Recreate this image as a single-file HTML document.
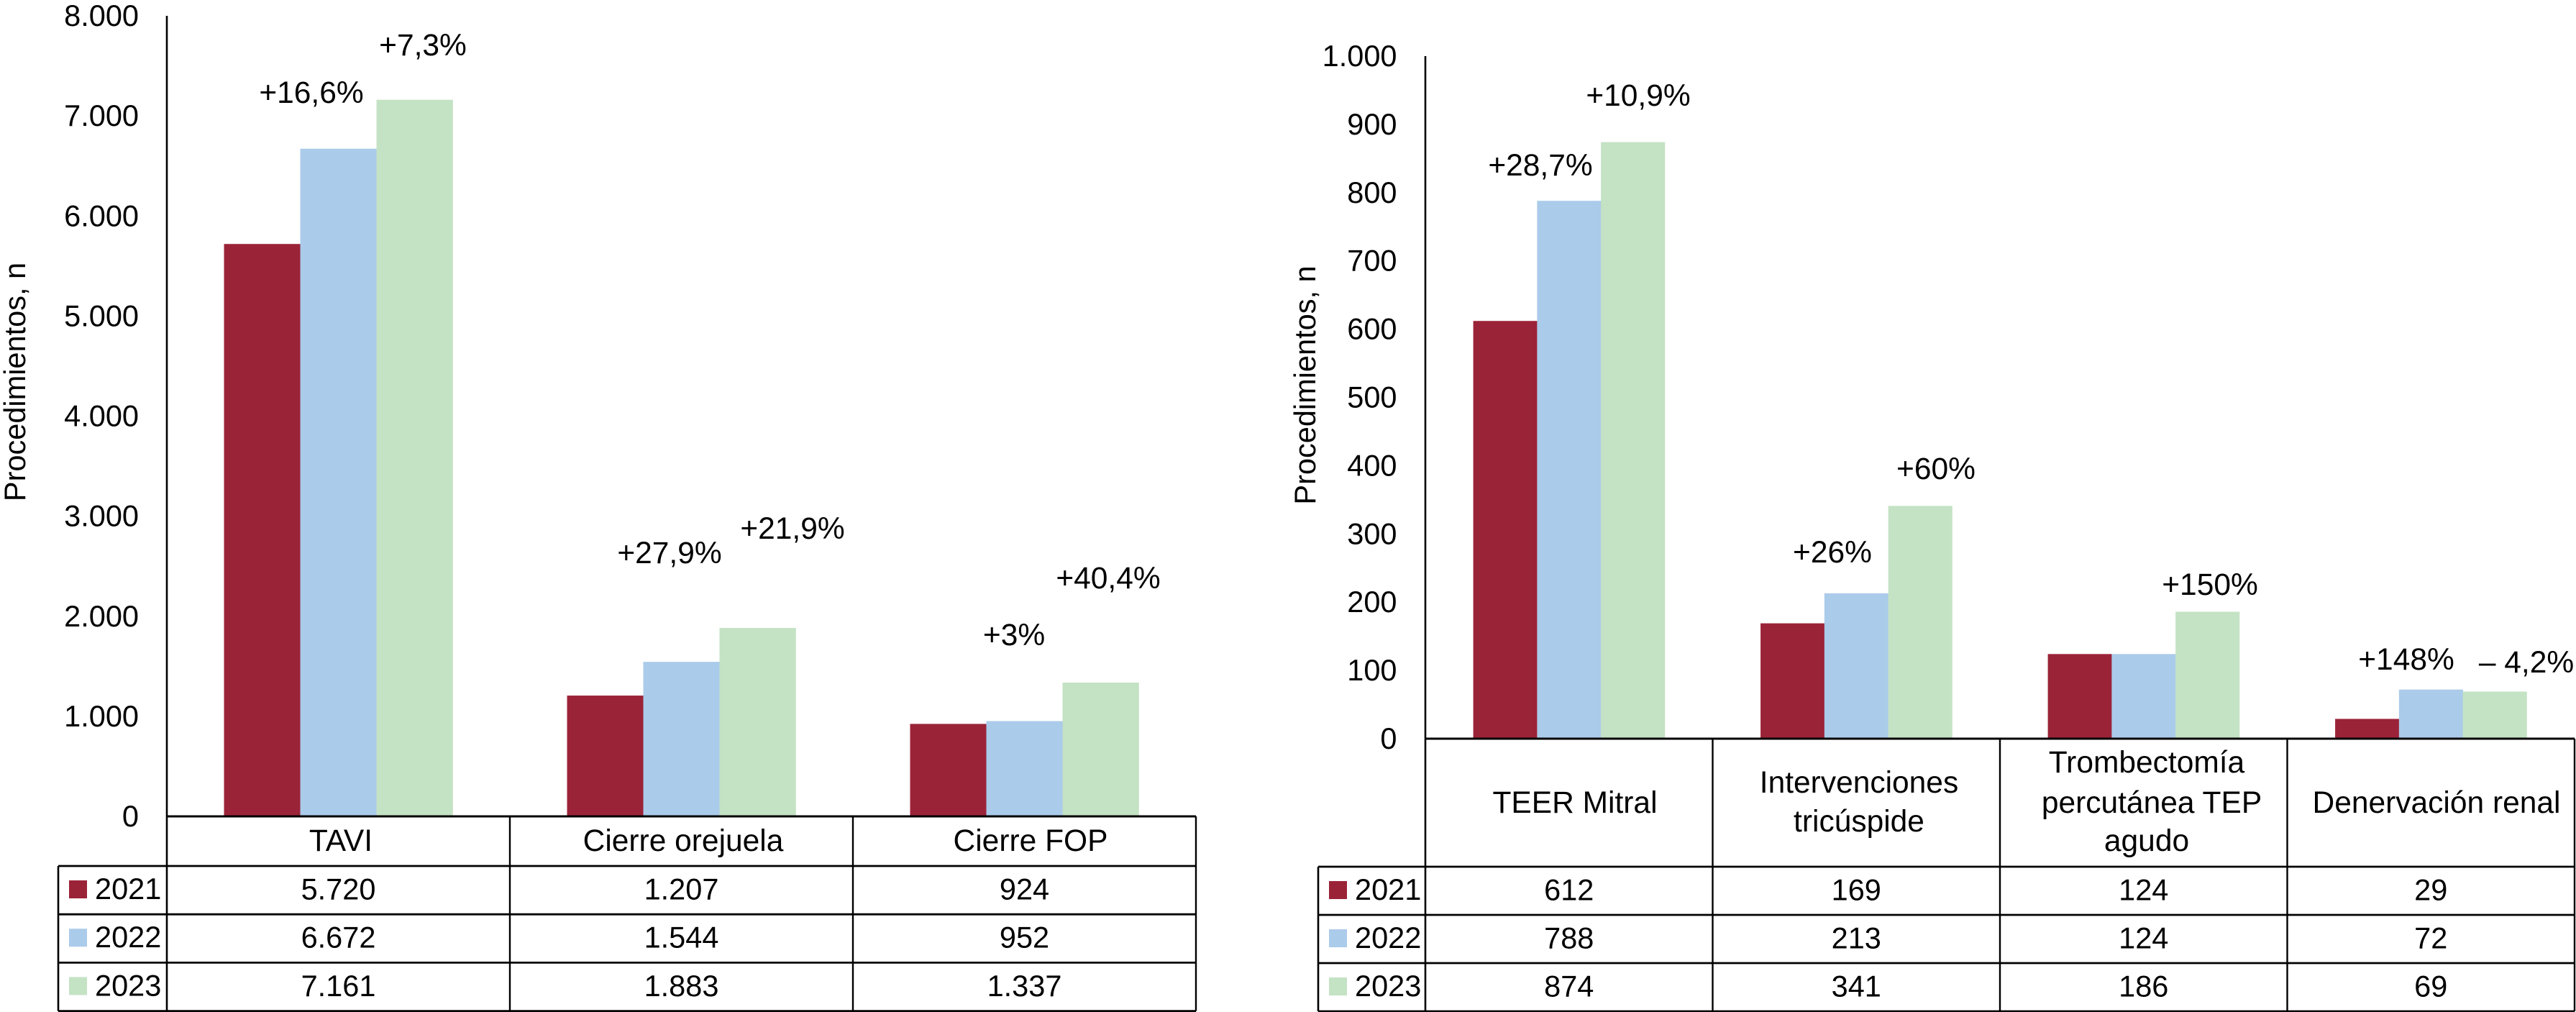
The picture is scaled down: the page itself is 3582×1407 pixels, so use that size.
<!DOCTYPE html>
<html lang="es">
<head>
<meta charset="utf-8">
<title>Procedimientos 2021-2023</title>
<style>
html,body{margin:0;padding:0;background:#fff;}
svg{display:block;}
text{font-family:"Liberation Sans",Arial,sans-serif;font-size:41.5px;fill:#000;}
.m{text-anchor:middle;}
.e{text-anchor:end;}
.l{font-size:42.5px;}
</style>
</head>
<body>
<svg id="figure" xmlns="http://www.w3.org/2000/svg" width="3582" height="1407" viewBox="0 0 3582 1407">
  <rect x="0" y="0" width="3582" height="1407" fill="#ffffff"/>
  <g id="left-chart">
    <text class="m" transform="translate(35,531) rotate(-90)">Procedimientos, n</text>
    <g id="left-marks"></g>
    <g id="left-table"></g>
    <text class="m l" x="474" y="1183">TAVI</text>
    <text class="m l" x="950" y="1183">Cierre orejuela</text>
    <text class="m l" x="1433" y="1183">Cierre FOP</text>
    <text class="m l" x="433" y="143">+16,6%</text>
    <text class="m l" x="588" y="77">+7,3%</text>
    <text class="m l" x="931" y="783">+27,9%</text>
    <text class="m l" x="1102" y="749">+21,9%</text>
    <text class="m l" x="1410" y="897">+3%</text>
    <text class="m l" x="1541" y="818">+40,4%</text>
  </g>
  <g id="right-chart">
    <text class="m" transform="translate(1829,535.5) rotate(-90)">Procedimientos, n</text>
    <g id="right-marks"></g>
    <g id="right-table"></g>
    <text class="m l" x="2190" y="1130">TEER Mitral</text>
    <text class="m l" x="2585" y="1102">Intervenciones</text>
    <text class="m l" x="2585" y="1156">tricúspide</text>
    <text class="m l" x="2985" y="1074">Trombectomía</text>
    <text class="m l" x="2992" y="1130">percutánea TEP</text>
    <text class="m l" x="2985" y="1183">agudo</text>
    <text class="m l" x="3388" y="1130">Denervación renal</text>
    <text class="m l" x="2142" y="244">+28,7%</text>
    <text class="m l" x="2278" y="147">+10,9%</text>
    <text class="m l" x="2548" y="782">+26%</text>
    <text class="m l" x="2692" y="666">+60%</text>
    <text class="m l" x="3073" y="827">+150%</text>
    <text class="m l" x="3346" y="931">+148%</text>
    <text class="m l" x="3513" y="935">– 4,2%</text>
  </g>
</svg>
<script>
var years = ['2021', '2022', '2023'];

var leftCategories = ['tavi', 'cierre-orejuela', 'cierre-fop'];
var leftTicks = [0, 1000, 2000, 3000, 4000, 5000, 6000, 7000, 8000];
var leftValues2021 = [5720, 1207, 924];
var leftValues2022 = [6672, 1544, 952];
var leftValues2023 = [7161, 1883, 1337];

var rightCategories = ['teer-mitral', 'intervenciones-tricuspide', 'trombectomia-tep', 'denervacion-renal'];
var rightTicks = [0, 100, 200, 300, 400, 500, 600, 700, 800, 900, 1000];
var rightValues2021 = [612, 169, 124, 29];
var rightValues2022 = [788, 213, 124, 72];
var rightValues2023 = [874, 341, 186, 69];

var seriesColors = ['#9b2338', '#abcbea', '#c4e2c4'];
var NS = 'http://www.w3.org/2000/svg';

function make(parent, tag, attrs, txt) {
  var el = document.createElementNS(NS, tag);
  for (var k in attrs) { el.setAttribute(k, attrs[k]); }
  if (txt !== undefined) { el.textContent = txt; }
  parent.appendChild(el);
  return el;
}

function fmt(n) {
  return String(n).replace(/\B(?=(\d{3})+(?!\d))/g, '.');
}

function drawChart(c) {
  var marks = document.getElementById(c.id + '-marks');
  var table = document.getElementById(c.id + '-table');
  var yScale = function (v) { return c.baseY - (v - 0) / c.maxV * (c.baseY - c.topY); };
  var colW = (c.rightX - c.axisX) / c.categories.length;
  var barW = colW * 2 / 9;
  var margin = colW / 6;
  var rowH = (c.bottomY - c.rowY) / c.series.length;

  c.ticks.forEach(function (t) {
    var label = make(marks, 'text', { 'class': 'e', x: c.tickX, y: yScale(t) + 14 }, fmt(t));
    
    
  });

  c.series.forEach(function (vals, s) {
    vals.forEach(function (v, i) {
      var bar = make(marks, 'rect', {
        x: c.axisX + i * colW + margin + s * barW,
        y: yScale(v),
        width: barW + 0.3,
        height: c.baseY - yScale(v),
        fill: seriesColors[s]
      });
      
      
    });
  });

  var line = function (x1, y1, x2, y2, w) {
    var l = make(table, 'line', { x1: x1, y1: y1, x2: x2, y2: y2, stroke: '#000', 'stroke-width': w });
    
    
  };

  line(c.axisX, c.topY, c.axisX, c.bottomY, 2.6);
  line(c.axisX, c.baseY, c.rightX, c.baseY, 3);
  line(c.rightX, c.baseY, c.rightX, c.bottomY, 2.4);
  line(c.tableX, c.rowY, c.tableX, c.bottomY, 2.6);
  for (var r = 0; r <= c.series.length; r++) {
    line(c.tableX, c.rowY + r * rowH, c.rightX, c.rowY + r * rowH, 2.8);
  }
  for (var d = 1; d < c.categories.length; d++) {
    line(c.axisX + d * colW, c.baseY, c.axisX + d * colW, c.bottomY, 2.4);
  }

  c.series.forEach(function (vals, s) {
    var top = c.rowY + s * rowH;
    var swatch = make(table, 'rect', { x: c.tableX + 15, y: top + 20, width: 25, height: 25, fill: seriesColors[s] });
    
    
    var yr = make(table, 'text', { x: c.tableX + 51, y: top + 46 }, years[s]);
    
    
    vals.forEach(function (v, i) {
      var cell = make(table, 'text', { 'class': 'm', x: c.axisX + (i + 0.5) * colW, y: top + 46.5 }, fmt(v));
      
      
    });
  });
}

drawChart({
  id: 'left', categories: leftCategories, ticks: leftTicks,
  series: [leftValues2021, leftValues2022, leftValues2023],
  maxV: 8000, axisX: 232, rightX: 1663, tableX: 81, tickX: 193,
  topY: 22, baseY: 1135, rowY: 1204, bottomY: 1405.6
});
drawChart({
  id: 'right', categories: rightCategories, ticks: rightTicks,
  series: [rightValues2021, rightValues2022, rightValues2023],
  maxV: 1000, axisX: 1982, rightX: 3580, tableX: 1833, tickX: 1942.5,
  topY: 78, baseY: 1027, rowY: 1205, bottomY: 1406
});
</script>
</body>
</html>
